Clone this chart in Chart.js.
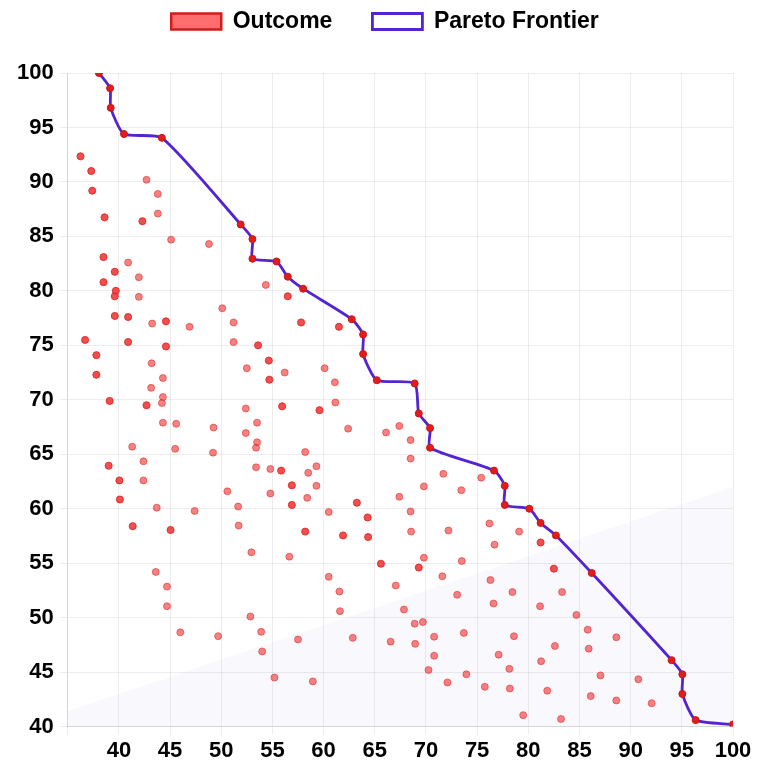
<!DOCTYPE html>
<html>
<head>
<meta charset="utf-8">
<script src="https://cdn.jsdelivr.net/npm/chart.js@4.4.1/dist/chart.umd.min.js"></script>
<style>
  html, body { margin: 0; padding: 0; background: #fff; }
  #wrap { width: 759px; height: 769px; }
</style>
</head>
<body>
<div id="wrap"><canvas id="chart"></canvas></div>
<script>
// Outcomes (x, y)
var outX = [36.25, 37.3, 37.4, 38.6, 42.7, 43.8, 43.8, 42.3, 45.1, 48.8,
  38.5, 40.9, 39.6, 41.95, 38.5, 39.7, 39.6, 41.95, 50.1, 54.35,
  56.5, 39.6, 40.9, 43.25, 44.6, 46.9, 51.2, 57.8, 61.5, 36.7,
  40.9, 44.6, 51.2, 53.6, 37.8, 54.65, 43.2, 52.5, 56.2, 60.1,
  37.8, 44.3, 54.7, 61.1, 43.15, 39.1, 44.3, 44.2, 42.7, 52.4,
  55.95, 59.6, 61.15, 44.3, 45.6, 49.25, 53.5, 52.4, 62.4, 66.1,
  67.4, 68.5, 41.3, 45.5, 49.2, 53.5, 53.4, 58.2, 68.5, 42.4,
  39.0, 53.4, 54.8, 55.85, 58.5, 59.3, 71.7, 75.4, 40.05, 42.4,
  56.9, 59.3, 69.8, 73.45, 50.6, 54.8, 58.4, 67.4, 40.1, 43.7,
  47.4, 51.65, 56.9, 63.25, 60.5, 64.3, 68.5, 41.35, 45.05, 51.7,
  58.2, 61.9, 64.35, 68.55, 72.2, 76.2, 79.1, 76.7, 81.2, 52.95,
  56.65, 65.6, 69.8, 69.3, 73.5, 82.5, 43.6, 60.5, 67.05, 71.6,
  76.3, 44.7, 61.55, 73.05, 78.45, 83.3, 44.7, 76.6, 81.15, 52.85,
  61.6, 67.85, 84.7, 68.9, 69.7, 85.8, 46.0, 49.7, 53.9, 57.5,
  62.85, 66.55, 68.95, 70.8, 73.7, 78.6, 82.6, 85.9, 88.6, 54.0,
  70.8, 77.1, 81.25, 70.25, 73.95, 78.15, 87.05, 90.75, 55.2, 58.95,
  72.1, 75.75, 78.2, 81.85, 86.1, 88.6, 92.05, 79.5, 83.2];
var outY = [92.35, 91.0, 89.2, 86.75, 90.2, 88.9, 87.1, 86.4, 84.7, 84.3,
  83.1, 82.6, 81.75, 81.25, 80.8, 80.0, 79.5, 79.45, 78.4, 80.55,
  79.5, 77.7, 77.6, 77.0, 77.2, 76.7, 77.1, 77.1, 76.7, 75.5,
  75.3, 74.9, 75.3, 75.0, 74.1, 73.6, 73.35, 72.9, 72.5, 72.9,
  72.3, 72.0, 71.85, 71.6, 71.1, 69.9, 70.25, 69.7, 69.5, 69.2,
  69.4, 69.05, 69.75, 67.9, 67.8, 67.45, 67.9, 66.95, 67.35, 67.0,
  67.6, 66.3, 65.7, 65.5, 65.15, 66.1, 65.6, 65.2, 64.6, 64.35,
  63.95, 63.8, 63.65, 63.5, 63.3, 63.9, 63.2, 62.85, 62.6, 62.6,
  62.15, 62.1, 62.05, 61.7, 61.6, 61.4, 61.0, 61.1, 60.85, 60.1,
  59.8, 60.2, 60.35, 60.55, 59.7, 59.2, 59.75, 58.4, 58.05, 58.45,
  57.9, 57.55, 57.4, 57.9, 58.0, 58.65, 57.9, 56.7, 56.9, 56.0,
  55.6, 54.95, 55.5, 54.6, 55.2, 54.5, 54.2, 53.75, 52.95, 53.8,
  53.45, 52.85, 52.4, 52.1, 52.35, 52.35, 51.05, 51.3, 51.05, 50.1,
  50.6, 50.75, 50.25, 49.45, 49.6, 48.9, 48.65, 48.3, 48.7, 48.0,
  48.15, 47.8, 47.6, 48.25, 48.6, 48.3, 47.4, 47.15, 48.2, 46.9,
  46.5, 46.6, 46.0, 45.2, 44.8, 45.3, 44.7, 44.35, 44.5, 44.15,
  44.05, 43.65, 43.5, 43.3, 42.8, 42.4, 42.15, 41.05, 40.7];

// Outcomes that occur twice (overlapping marks)
var dupX = [36.25, 37.3, 37.4, 38.6, 42.3, 38.5, 39.6, 38.5, 39.7, 39.6,
  56.5, 39.6, 40.9, 44.6, 57.8, 61.5, 36.7, 40.9, 44.6, 53.6,
  37.8, 54.65, 37.8, 54.7, 39.1, 42.7, 55.95, 59.6, 39.0, 55.85,
  40.05, 56.9, 40.1, 56.9, 63.25, 64.3, 41.35, 45.05, 58.2, 61.9,
  64.35, 81.2, 65.6, 69.3, 82.5];
var dupY = [92.35, 91.0, 89.2, 86.75, 86.4, 83.1, 81.75, 80.8, 80.0, 79.5,
  79.5, 77.7, 77.6, 77.2, 77.1, 76.7, 75.5, 75.3, 74.9, 75.0,
  74.1, 73.6, 72.3, 71.85, 69.9, 69.5, 69.4, 69.05, 63.95, 63.5,
  62.6, 62.15, 60.85, 60.35, 60.55, 59.2, 58.4, 58.05, 57.9, 57.55,
  57.4, 56.9, 54.95, 54.6, 54.5];

// Pareto frontier
var paretoX = [38.05, 39.14, 39.2, 40.5, 44.2, 51.9, 53.05, 53.05, 55.4, 56.5,
  58.0, 62.75, 63.86, 63.86, 65.2, 68.9, 69.3, 70.4, 70.4, 76.65,
  77.7, 77.7, 80.1, 81.2, 82.7, 86.2, 94.0, 95.05, 95.05, 96.35, 100];
var paretoY = [100, 98.6, 96.8, 94.4, 94.05, 86.1, 84.75, 82.95, 82.7, 81.3,
  80.2, 77.4, 76.0, 74.2, 71.8, 71.5, 68.75, 67.4, 65.6, 63.5,
  62.1, 60.35, 60.0, 58.7, 57.55, 54.1, 46.1, 44.8, 43.0, 40.6, 40.2];

// faint background band
var shadeX = [35, 100];
var shadeY = [41.4, 62];

function toPoints(xs, ys) {
  return xs.map(function (x, i) { return { x: x, y: ys[i] }; });
}

// extra room between legend and plot
var legendGap = {
  id: 'legendGap',
  beforeInit: function (chart) {
    var fit = chart.legend.fit;
    chart.legend.fit = function () {
      fit.call(chart.legend);
      this.height += 30;
    };
  }
};

var tickFont = { family: 'Arial', size: 22, weight: 'bold' };

new Chart(document.getElementById('chart'), {
  type: 'scatter',
  data: {
    datasets: [
      {
        label: 'Outcome',
        data: toPoints(outX.concat(dupX), outY.concat(dupY)),
        backgroundColor: 'rgba(240, 45, 45, 0.6)',
        borderColor: 'rgba(220, 40, 40, 0.55)',
        pointBorderWidth: 1,
        pointRadius: 3.5,
        pointHoverRadius: 3.5
      },
      {
        label: 'Pareto Frontier',
        type: 'line',
        data: toPoints(paretoX, paretoY),
        showLine: true,
        fill: false,
        borderColor: '#5424d2',
        backgroundColor: '#ffffff',
        borderWidth: 2.8,
        tension: 0.2,
        pointBackgroundColor: '#e01c1c',
        pointBorderColor: '#cc1515',
        pointBorderWidth: 1,
        pointRadius: 3.5
      },
      {
        label: 'band',
        type: 'line',
        data: toPoints(shadeX, shadeY),
        fill: 'start',
        backgroundColor: 'rgba(110, 90, 220, 0.045)',
        borderWidth: 0,
        pointRadius: 0,
        tension: 0
      }
    ]
  },
  options: {
    responsive: true,
    maintainAspectRatio: false,
    animation: false,
    layout: { padding: { left: 11, right: 0, top: -30, bottom: 2 } },
    plugins: {
      legend: {
        position: 'top',
        labels: {
          color: '#000',
          font: { family: 'Arial', size: 23, weight: 'bold' },
          boxWidth: 50,
          boxHeight: 16,
          padding: 40,
          filter: function (item) { return item.datasetIndex < 2; },
          generateLabels: function (chart) {
            var items = Chart.defaults.plugins.legend.labels.generateLabels(chart);
            items.forEach(function (item) {
              if (item.datasetIndex === 0) {
                item.fillStyle = 'rgba(255, 85, 85, 0.85)';
                item.strokeStyle = '#d21c1c';
                item.lineWidth = 2.5;
              } else if (item.datasetIndex === 1) {
                item.fillStyle = '#ffffff';
                item.strokeStyle = '#5424d2';
                item.lineWidth = 2.8;
              }
            });
            return items;
          }
        }
      },
      tooltip: { enabled: false }
    },
    scales: {
      x: {
        type: 'linear',
        min: 35,
        max: 100,
        afterFit: function (scale) { scale.paddingRight = 26; },
        ticks: {
          stepSize: 5,
          color: '#000',
          font: tickFont,
          callback: function (v) { return v === 35 ? '' : v; }
        },
        grid: { color: 'rgba(0, 0, 0, 0.07)' }
      },
      y: {
        min: 40,
        max: 100,
        ticks: {
          stepSize: 5,
          color: '#000',
          font: tickFont,
          padding: 6
        },
        grid: { color: 'rgba(0, 0, 0, 0.07)' }
      }
    }
  },
  plugins: [legendGap]
});
</script>
</body>
</html>
